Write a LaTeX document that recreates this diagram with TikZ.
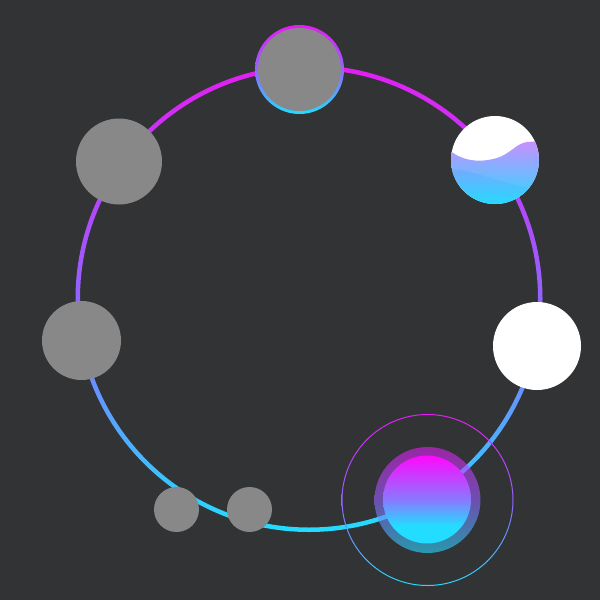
\documentclass[tikz,border=0pt]{standalone}
\usetikzlibrary{calc}
\definecolor{bgc}{HTML}{323335}
\definecolor{grayc}{HTML}{888888}
\definecolor{magc}{HTML}{E21EF2}
\definecolor{purpc}{HTML}{9264FF}
\definecolor{cyanc}{HTML}{22DDFF}
\definecolor{magb}{HTML}{FF08FF}
\definecolor{orbmid}{HTML}{8A78FF}
\definecolor{lav}{HTML}{C890FF}
\definecolor{blu}{HTML}{6AA4FF}
\pgfdeclareverticalshading{orbshade}{100bp}{color(0bp)=(cyanc); color(35bp)=(cyanc); color(50bp)=(orbmid); color(75bp)=(magb); color(100bp)=(magb)}
\tikzset{
  graydot/.style={circle, fill=grayc, draw=none, inner sep=0pt, outer sep=0pt},
  whitedot/.style={circle, fill=white, draw=none, inner sep=0pt, outer sep=0pt},
  gradring/.style={top color=magc, bottom color=cyanc, middle color=purpc, even odd rule},
}
\begin{document}
\begin{tikzpicture}[x=1pt, y=-1pt]
\fill[bgc] (0,0) rectangle (600,600);
\useasboundingbox (0,0) rectangle (600,600);
\coordinate (ringc) at (309,298.5);
\coordinate (orbc) at (427.5,500);
% main ring
\path[gradring] (ringc) circle (233.5) (ringc) circle (229);
% thin ring around orb
\path[gradring] (orbc) circle (86) (orbc) circle (85);
% top circle with gradient outline
\node[circle, minimum size=89pt, inner sep=0pt, top color=magc, bottom color=cyanc, middle color=purpc] (topring) at (299.5,69.5) {};
\node[graydot, minimum size=83pt] (top) at (topring) {};
% gray circles
\node[graydot, minimum size=86pt] (tl) at (119,161.5) {};
\node[graydot, minimum size=79pt] (left) at (81.5,340.5) {};
\node[graydot, minimum size=45pt] (s1) at (176.5,509.5) {};
\node[graydot, minimum size=45pt] (s2) at (249.5,509.5) {};
% white circle
\node[whitedot, minimum size=88pt] (right) at (537,346) {};
% wave circle
\coordinate (wave) at (495,160);
\begin{scope}[shift={(wave)}]
  \clip (0,0) circle (44);
  \fill[white] (-46,-46) rectangle (46,46);
  \shade[top color=lav, bottom color=cyanc] (-46,-10) .. controls (-30,3) and (-12,2) .. (2,-2) .. controls (15,-6) and (22,-17) .. (32,-18) -- (46,-19) -- (46,46) -- (-46,46) -- cycle;
  \shade[top color=blu, bottom color=cyanc, opacity=0.5] (-46,10) .. controls (-30,8) and (-20,14) .. (-5,18) .. controls (10,22) and (30,28) .. (46,30) -- (46,46) -- (-46,46) -- cycle;
\end{scope}
% orb
\node[circle, minimum size=106pt, inner sep=0pt, top color=magc, bottom color=cyanc, middle color=purpc, opacity=0.6] (halo) at (orbc) {};
\node[circle, minimum size=88pt, inner sep=0pt, shading=orbshade] (orb) at (427,499.5) {};
\end{tikzpicture}
\end{document}
